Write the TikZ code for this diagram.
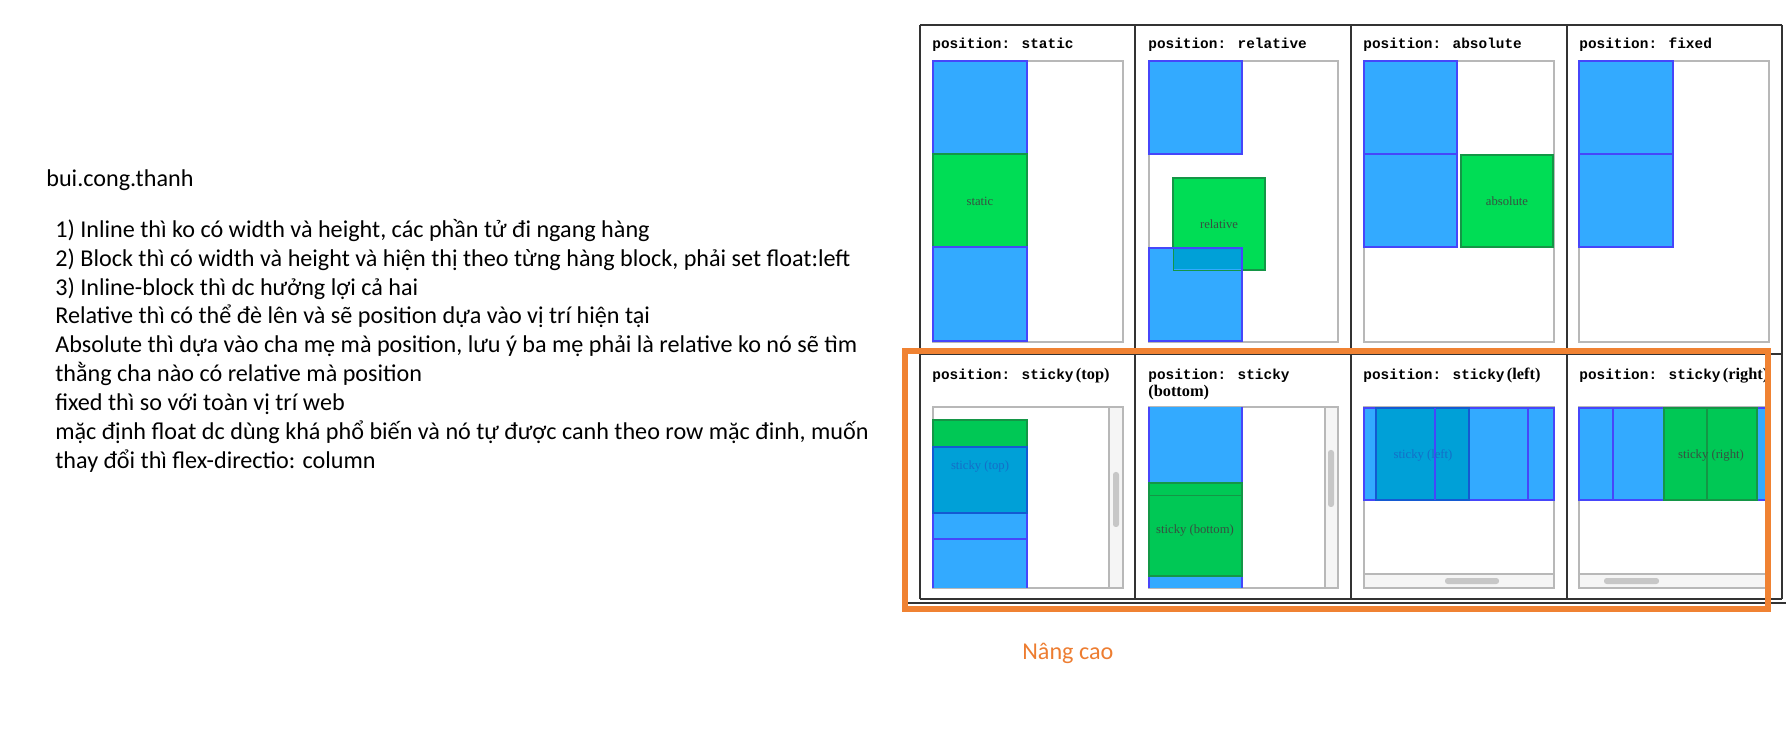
\documentclass[tikz,border=0pt]{standalone}
\usepackage{fontspec}
\setmainfont{Carlito}
\newfontfamily\titlefont{Liberation Mono}
\newfontfamily\labelfont{Liberation Serif}

\definecolor{boxblue}{RGB}{51,170,255}
\definecolor{edgeblue}{RGB}{70,70,250}
\definecolor{boxgreen}{RGB}{0,221,85}
\definecolor{stickygreen}{RGB}{0,200,85}
\definecolor{edgegreen}{RGB}{20,150,70}
\definecolor{overlap}{RGB}{0,160,215}
\definecolor{overlapedge}{RGB}{20,90,210}
\definecolor{frameorange}{RGB}{240,130,50}
\definecolor{noteorange}{RGB}{237,125,49}
\definecolor{labelgray}{RGB}{55,80,65}
\definecolor{stickytext}{RGB}{20,110,200}

\begin{document}
\begin{tikzpicture}[x=0.02cm, y=-0.02cm,
    note/.style={anchor=base west, inner sep=0pt, font=\fontsize{13.75pt}{16.5pt}\selectfont},
    title/.style={anchor=base west, inner sep=0pt, font=\titlefont\bfseries\fontsize{8.2pt}{9.6pt}\selectfont},
    cell/.style={draw=black!80, line width=1.3pt},
    frame/.style={draw=black!28, line width=0.8pt},
    bluebox/.style={fill=boxblue, draw=edgeblue, line width=1.1pt},
    greenbox/.style={fill=boxgreen, draw=edgegreen, line width=0.7pt},
    stickybox/.style={fill=overlap, draw=overlapedge, line width=0.9pt},
    boxlabel/.style={inner sep=0pt, font=\labelfont\fontsize{7.2pt}{8pt}\selectfont, text=labelgray},
    track/.style={fill=black!4},
    thumb/.style={fill=black!22, rounded corners=1.5pt}]

  \useasboundingbox (0, 0) rectangle (1786, 736);

  % Notes
  \node [note] (author) at (46, 187) {bui.cong.thanh};
  \foreach \t [count=\i from 0] in {
      {1) Inline thì ko có width và height, các phần tử đi ngang hàng},
      {2) Block thì có width và height và hiện thị theo từng hàng block, phải set float:left},
      {3) Inline-block thì dc hưởng lợi cả hai},
      {Relative thì có thể đè lên và sẽ position dựa vào vị trí hiện tại},
      {Absolute thì dựa vào cha mẹ mà position, lưu ý ba mẹ phải là relative ko nó sẽ tìm},
      {thằng cha nào có relative mà position},
      {fixed thì so với toàn vị trí web},
      {mặc định float dc dùng khá phổ biến và nó tự được canh theo row mặc đinh, muốn},
      {thay đổi thì flex-directio: column}
    } {
    \node [note] (note\i) at (55, {237.3 + 28.9 * \i}) {\t};
  }

  % Grid of the eight cells
  \foreach \x in {920, 1135, 1351, 1567, 1782}
    \draw [cell] (\x, 25) -- (\x, 599);
  \foreach \y in {25, 354, 599}
    \draw [cell] (920, \y) -- (1782, \y);
  \draw [cell] (908, 603) -- (1786, 603);

  % position: static
  \node [title] (static) at (932, 49) {position: static};
  \draw [frame] (933, 61) rectangle (1123, 342);
  \draw [bluebox] (933, 61) rectangle (1027, 154);
  \draw [greenbox] (933, 154) rectangle (1027, 247);
  \draw [bluebox] (933, 247) rectangle (1027, 341);
  \node [boxlabel] (staticlabel) at (980, 201) {static};

  % position: relative
  \node [title] (relative) at (1148, 49) {position: relative};
  \draw [frame] (1149, 61) rectangle (1338, 342);
  \draw [bluebox] (1149, 61) rectangle (1242, 154);
  \draw [greenbox] (1173, 178) rectangle (1265, 270);
  \draw [bluebox] (1149, 248) rectangle (1242, 341);
  \fill [overlap] (1174, 249) rectangle (1241, 269);
  \draw [edgegreen, line width=0.5pt] (1173, 249) -- (1173, 270) -- (1241, 270);
  \node [boxlabel] (relativelabel) at (1219, 224) {relative};

  % position: absolute
  \node [title] (absolute) at (1363, 49) {position: absolute};
  \draw [frame] (1364, 61) rectangle (1554, 342);
  \draw [bluebox] (1364, 61) rectangle (1457, 154);
  \draw [bluebox] (1364, 154) rectangle (1457, 247);
  \draw [greenbox] (1461, 155) rectangle (1553, 247);
  \node [boxlabel] (absolutelabel) at (1507, 201) {absolute};

  % position: fixed
  \node [title] (fixed) at (1579, 49) {position: fixed};
  \draw [frame] (1579, 61) rectangle (1769, 342);
  \draw [bluebox] (1579, 61) rectangle (1673, 154);
  \draw [bluebox] (1579, 154) rectangle (1673, 247);

  % position: sticky (top)
  \node [title] (stickytop) at (932, 380)
    {position: sticky\,{\labelfont\bfseries\fontsize{9.3pt}{10pt}\selectfont(top)}};
  \draw [frame, track] (1109, 407) rectangle (1123, 588);
  \draw [frame] (933, 407) rectangle (1123, 588);
  \fill [thumb] (1113, 472) rectangle (1119, 527);
  \draw [greenbox, fill=stickygreen] (933, 420) rectangle (1027, 447);
  \draw [bluebox] (933, 447) rectangle (1027, 539);
  \draw [bluebox] (933, 539) -- (1027, 539);
  \fill [boxblue] (934, 540) rectangle (1026, 588);
  \draw [edgeblue, line width=1.1pt] (933, 539) -- (933, 588) (1027, 539) -- (1027, 588);
  \draw [stickybox] (933, 447) rectangle (1027, 513);
  \node [boxlabel, text=stickytext] (stickytoplabel) at (980, 466) {sticky (top)};

  % position: sticky (bottom)
  \node [title] (stickybottom) at (1148, 380) {position: sticky};
  \node [title, font=\labelfont\bfseries\fontsize{9.3pt}{10pt}\selectfont] (stickybottom2) at (1148, 397) {(bottom)};
  \draw [frame, track] (1325, 407) rectangle (1338, 588);
  \draw [frame] (1149, 407) rectangle (1338, 588);
  \fill [thumb] (1328, 450) rectangle (1334, 507);
  \fill [boxblue] (1149, 407) rectangle (1242, 483);
  \fill [boxblue] (1149, 576) rectangle (1242, 588);
  \draw [edgeblue, line width=1.1pt] (1149, 407) -- (1149, 588) (1242, 407) -- (1242, 588);
  \draw [greenbox, fill=stickygreen] (1149, 483) rectangle (1242, 576);
  \draw [edgegreen, line width=0.5pt] (1149, 495) -- (1242, 495);
  \node [boxlabel] (stickybottomlabel) at (1195, 530) {sticky (bottom)};

  % position: sticky (left)
  \node [title] (stickyleft) at (1363, 380)
    {position: sticky\,{\labelfont\bfseries\fontsize{9.3pt}{10pt}\selectfont(left)}};
  \draw [frame] (1364, 407) rectangle (1554, 588);
  \draw [frame, track] (1364, 574) rectangle (1554, 588);
  \fill [thumb] (1445, 578) rectangle (1499, 584);
  \draw [bluebox] (1364, 408) rectangle (1554, 500);
  \draw [stickybox] (1376, 408) rectangle (1469, 500);
  \foreach \x in {1435, 1528}
    \draw [edgeblue, line width=1.6pt] (\x, 408) -- (\x, 500);
  \node [boxlabel, text=stickytext] (stickyleftlabel) at (1423, 455) {sticky (left)};

  % position: sticky (right)
  \node [title] (stickyright) at (1579, 380)
    {position: sticky\,{\labelfont\bfseries\fontsize{9.3pt}{10pt}\selectfont(right)}};
  \draw [frame] (1579, 407) rectangle (1769, 588);
  \draw [frame, track] (1579, 574) rectangle (1769, 588);
  \fill [thumb] (1604, 578) rectangle (1659, 584);
  \draw [bluebox] (1579, 408) rectangle (1769, 500);
  \draw [edgeblue, line width=1.6pt] (1613, 408) -- (1613, 500);
  \draw [greenbox, fill=stickygreen] (1664, 408) rectangle (1757, 500);
  \draw [edgegreen, line width=0.6pt] (1707, 408) -- (1707, 500);
  \node [boxlabel] (stickyrightlabel) at (1711, 455) {sticky (right)};

  % Highlight of the lower row
  \draw [frameorange, line width=3.1pt] (905, 351) rectangle (1768, 609);
  \node [note, text=noteorange] (advanced) at (1022, 659) {Nâng cao};

\end{tikzpicture}
\end{document}
